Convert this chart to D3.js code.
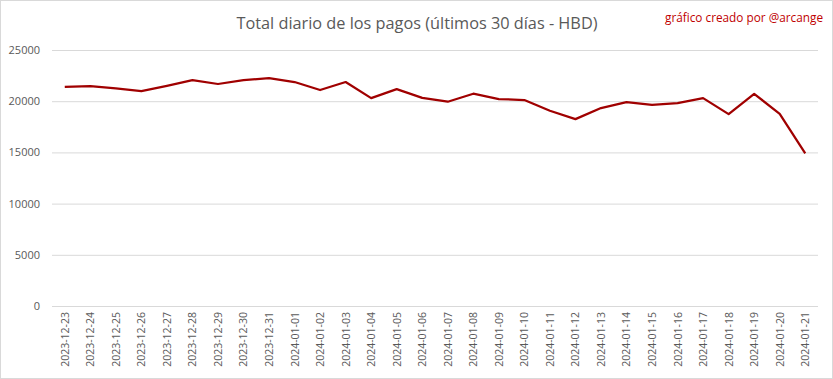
<!DOCTYPE html>
<html><head><meta charset="utf-8">
<script src="https://cdn.jsdelivr.net/npm/d3@7"></script>
<style>html,body{margin:0;padding:0;background:#fff;}svg{display:block;}</style>
</head><body>
<script>
const dates = ["2023-12-23","2023-12-24","2023-12-25","2023-12-26","2023-12-27","2023-12-28","2023-12-29","2023-12-30","2023-12-31","2024-01-01","2024-01-02","2024-01-03","2024-01-04","2024-01-05","2024-01-06","2024-01-07","2024-01-08","2024-01-09","2024-01-10","2024-01-11","2024-01-12","2024-01-13","2024-01-14","2024-01-15","2024-01-16","2024-01-17","2024-01-18","2024-01-19","2024-01-20","2024-01-21"];
const totals = [21400,21480,21250,20990,21500,22060,21680,22060,22250,21870,21090,21870,20300,21180,20330,19950,20730,20210,20110,19070,18250,19330,19910,19650,19820,20300,18740,20720,18770,14900];
const yTicks = [0,5000,10000,15000,20000,25000];
const titleText = "Total diario de los pagos (últimos 30 días - HBD)";
const creditText = "gráfico creado por @arcange";

const W = 833, H = 379;
const m = {left:52, right:15, top:50, bottom:73};
const svg = d3.select("body").append("svg").attr("width",W).attr("height",H);
svg.append("rect").attr("x",0.5).attr("y",0.5).attr("width",W-1).attr("height",H-1)
  .attr("fill","#fff").attr("stroke","#d9d9d9");

const x = d3.scalePoint().domain(dates).range([m.left, W-m.right]).padding(0.5);
const y = d3.scaleLinear().domain([0,25000]).range([H-m.bottom, m.top]);

// grid
const gy = svg.append("g").attr("transform",`translate(${m.left},0)`)
  .call(d3.axisLeft(y).tickValues(yTicks).tickSize(-(W-m.left-m.right)).tickPadding(12).tickFormat(d3.format("d")));
gy.select(".domain").remove();
gy.selectAll(".tick line").attr("stroke","#d9d9d9").attr("stroke-width",1);
gy.selectAll(".tick text").attr("fill","#595959").style("font-family","'Open Sans', sans-serif").style("font-size","11px");

// x axis
const gx = svg.append("g").attr("transform",`translate(0,${H-m.bottom})`)
  .call(d3.axisBottom(x).tickSize(0).tickPadding(6));
gx.select(".domain").remove();
gx.selectAll(".tick text")
  .attr("fill","#595959").style("font-family","'Open Sans', sans-serif").style("font-size","10.5px")
  .attr("transform","rotate(-90)").attr("text-anchor","end").attr("dx","-6px").attr("dy","0.33em").attr("y",0).attr("x",0);

// line
const line = d3.line().x((d,i)=>x(dates[i])).y(d=>y(d));
svg.append("path").datum(totals).attr("d",line).attr("fill","none")
  .attr("stroke","#a00000").attr("stroke-width",2.25).attr("stroke-linejoin","round");

// title
svg.append("text").attr("x",417).attr("y",29).attr("text-anchor","middle")
  .attr("fill","#595959").style("font-family","'Open Sans', sans-serif").style("font-size","17px")
  .attr("textLength",361).attr("lengthAdjust","spacingAndGlyphs").text(titleText);
svg.append("text").attr("x",823).attr("y",22).attr("text-anchor","end")
  .attr("fill","#c00000").style("font-family","'Open Sans', sans-serif").style("font-size","12px")
  .attr("textLength",158).attr("lengthAdjust","spacingAndGlyphs").text(creditText);
</script>
</body></html>
